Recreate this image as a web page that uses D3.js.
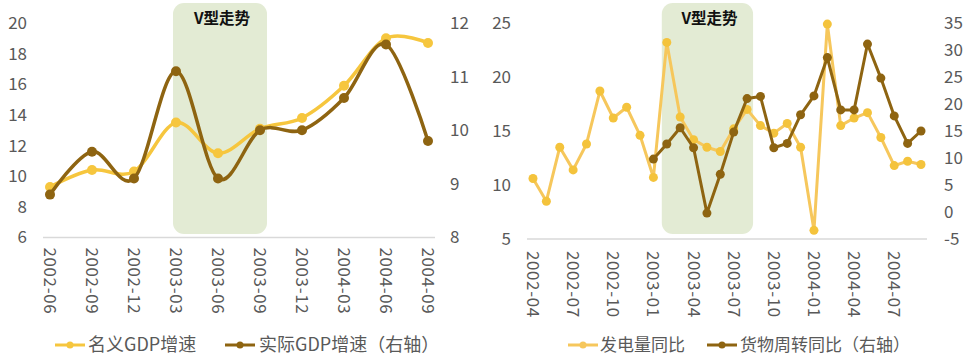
<!DOCTYPE html>
<html><head><meta charset="utf-8">
<script src="https://cdn.jsdelivr.net/npm/d3@7"></script>
<style>
html,body{margin:0;padding:0;background:#fff;}
svg{display:block;font-family:"Noto Sans CJK SC","Noto Sans",sans-serif;}
</style></head>
<body>
<svg id="c" width="969" height="356"></svg>
<script>
// ---------- Data: left chart (quarterly GDP) ----------
const quarters = ["2002-06","2002-09","2002-12","2003-03","2003-06","2003-09","2003-12","2004-03","2004-06","2004-09"];
const nominalGDP = [9.3, 10.4, 10.3, 13.5, 11.5, 13.1, 13.8, 15.9, 19.0, 18.7];
const realGDP = [8.8, 9.6, 9.1, 11.1, 9.1, 10.0, 10.0, 10.6, 11.6, 9.8];
const leftTicksA = [6, 8, 10, 12, 14, 16, 18, 20];
const rightTicksA = [8, 9, 10, 11, 12];
const bandA = ["2003-03", "2003-09"];

// ---------- Data: right chart (monthly) ----------
const months = ["2002-04","2002-05","2002-06","2002-07","2002-08","2002-09","2002-10","2002-11","2002-12",
  "2003-01","2003-02","2003-03","2003-04","2003-05","2003-06","2003-07","2003-08","2003-09","2003-10","2003-11","2003-12",
  "2004-01","2004-02","2004-03","2004-04","2004-05","2004-06","2004-07","2004-08","2004-09"];
const powerGen = [10.6, 8.5, 13.5, 11.4, 13.8, 18.7, 16.2, 17.2, 14.6,
  10.7, 23.2, 16.3, 14.2, 13.5, 13.1, 15.2, 17.0, 15.5, 14.8, 15.7, 13.5,
  5.8, 24.9, 15.5, 16.2, 16.7, 14.4, 11.8, 12.2, 11.9];
const freight = [null, null, null, null, null, null, null, null, null,
  9.8, 12.6, 15.6, 11.9, -0.2, 7.0, 14.8, 21.0, 21.4, 11.9, 12.7, 18.0,
  21.5, 28.6, 18.9, 18.9, 31.1, 24.8, 17.8, 12.7, 15.0];
const monthLabels = ["2002-04","2002-07","2002-10","2003-01","2003-04","2003-07","2003-10","2004-01","2004-04","2004-07"];
const leftTicksB = [5, 10, 15, 20, 25];
const rightTicksB = [-5, 0, 5, 10, 15, 20, 25, 30, 35];
const bandB = ["2003-02", "2003-08"];

const bandTitle = "V型走势";
const legendA = ["名义GDP增速", "实际GDP增速（右轴）"];
const legendB = ["发电量同比", "货物周转同比（右轴）"];

// ---------- Styles ----------
const cLight = "#F6C63E", cDark = "#8E6411", cLightB = "#F6C75C", cLightBm = "#F4C33C";
const cBand = "#E3EBD4", cGrid = "#D9D9D9", cText = "#595959";

const svg = d3.select("#c");
const fmt = d => String(d);

function drawChart(cfg) {
  const g = svg.append("g");
  const x = d3.scalePoint().domain(cfg.cats).range(cfg.xRange);
  const yL = d3.scaleLinear().domain(cfg.lDomain).range([cfg.yBottom, cfg.yTop]);
  const yR = d3.scaleLinear().domain(cfg.rDomain).range([cfg.yBottom, cfg.yTop]);

  // band
  const bx0 = x(cfg.band[0]) - cfg.bandPad[0], bx1 = x(cfg.band[1]) + cfg.bandPad[1];
  g.append("rect").attr("x", bx0).attr("y", 3).attr("width", bx1 - bx0).attr("height", 231)
    .attr("rx", 11).attr("fill", cBand);
  g.append("text").attr("x", (bx0 + bx1) / 2 + 2).attr("y", 19).attr("dy", "0.35em")
    .attr("text-anchor", "middle").attr("font-size", 15.5).attr("font-weight", 700)
    .attr("fill", "#111").text(bandTitle);

  // baseline
  g.append("line").attr("x1", cfg.gridX[0]).attr("x2", cfg.gridX[1])
    .attr("y1", cfg.yBottom).attr("y2", cfg.yBottom).attr("stroke", cGrid).attr("stroke-width", 1.5);

  // left axis
  const axL = g.append("g").attr("transform", `translate(${cfg.lAxisX},0)`)
    .call(d3.axisLeft(yL).tickValues(cfg.lTicks).tickFormat(fmt).tickSize(0).tickPadding(0));
  axL.select(".domain").remove();
  axL.selectAll("text").attr("font-size", 17).attr("fill", cText).attr("font-family", "'Noto Sans CJK SC',sans-serif");

  // right axis
  const axR = g.append("g").attr("transform", `translate(${cfg.rAxisX},0)`)
    .call(d3.axisRight(yR).tickValues(cfg.rTicks).tickFormat(fmt).tickSize(0).tickPadding(0));
  axR.select(".domain").remove();
  axR.selectAll("text").attr("font-size", 17).attr("fill", cText).attr("font-family", "'Noto Sans CJK SC',sans-serif");

  // x labels rotated
  g.selectAll(".xl").data(cfg.xLabels).enter().append("text")
    .attr("transform", d => `translate(${x(d)},${cfg.yBottom + cfg.xLabelOff}) rotate(90)`)
    .attr("dy", "0.35em").attr("font-size", 17).attr("fill", cText)
    .attr("letter-spacing", 0.6)
    .text(d => d);

  // series
  cfg.series.forEach(s => {
    const pts = cfg.cats.map((c, i) => ({c, v: s.values[i]})).filter(p => p.v != null);
    const sc = s.axis === "L" ? yL : yR;
    const line = d3.line().x(p => x(p.c)).y(p => sc(p.v)).curve(cfg.curve);
    g.append("path").datum(pts).attr("d", line).attr("fill", "none")
      .attr("stroke", s.color).attr("stroke-width", cfg.lw).attr("stroke-linejoin", "round");
    g.selectAll(null).data(pts).enter().append("circle")
      .attr("cx", p => x(p.c)).attr("cy", p => sc(p.v)).attr("r", cfg.mr).attr("fill", s.mcolor);
  });

  // legend
  cfg.legend.forEach((L, i) => {
    const lg = g.append("g");
    lg.append("line").attr("x1", L.x).attr("x2", L.x + 30).attr("y1", 345).attr("y2", 345)
      .attr("stroke", L.color).attr("stroke-width", 3);
    lg.append("circle").attr("cx", L.x + 15).attr("cy", 345).attr("r", 3.5).attr("fill", L.color);
    lg.append("text").attr("x", L.x + L.tx).attr("y", 345).attr("dy", "0.35em")
      .attr("font-size", L.fs).attr("fill", cText).text(L.text);
  });
}

drawChart({
  cats: quarters, xRange: [50, 428], yTop: 23, yBottom: 237.5,
  lDomain: [6, 20], rDomain: [8, 12], lTicks: leftTicksA, rTicks: rightTicksA,
  band: bandA, bandPad: [3, 7], gridX: [43, 435], lAxisX: 27, rAxisX: 450,
  xLabels: quarters, xLabelOff: 10,
  curve: d3.curveCardinal.tension(0), lw: 3.5, mr: 5,
  series: [
    {values: nominalGDP, axis: "L", color: cLight, mcolor: cLight},
    {values: realGDP, axis: "R", color: cDark, mcolor: cDark}
  ],
  legend: [
    {x: 55, tx: 33, text: legendA[0], color: cLight, fs: 18},
    {x: 225, tx: 34, text: legendA[1], color: cDark, fs: 18}
  ]
});

drawChart({
  cats: months, xRange: [533, 921], yTop: 23, yBottom: 239,
  lDomain: [5, 25], rDomain: [-5, 35], lTicks: leftTicksB, rTicks: rightTicksB,
  band: bandB, bandPad: [5, 6], gridX: [527, 927], lAxisX: 511, rAxisX: 944,
  xLabels: monthLabels, xLabelOff: 12,
  curve: d3.curveLinear, lw: 3, mr: 4.5,
  series: [
    {values: powerGen, axis: "L", color: cLightB, mcolor: cLightBm},
    {values: freight, axis: "R", color: cDark, mcolor: cDark}
  ],
  legend: [
    {x: 568, tx: 32, text: legendB[0], color: cLightB, fs: 17},
    {x: 707, tx: 33, text: legendB[1], color: cDark, fs: 17}
  ]
});
</script>
</body></html>
